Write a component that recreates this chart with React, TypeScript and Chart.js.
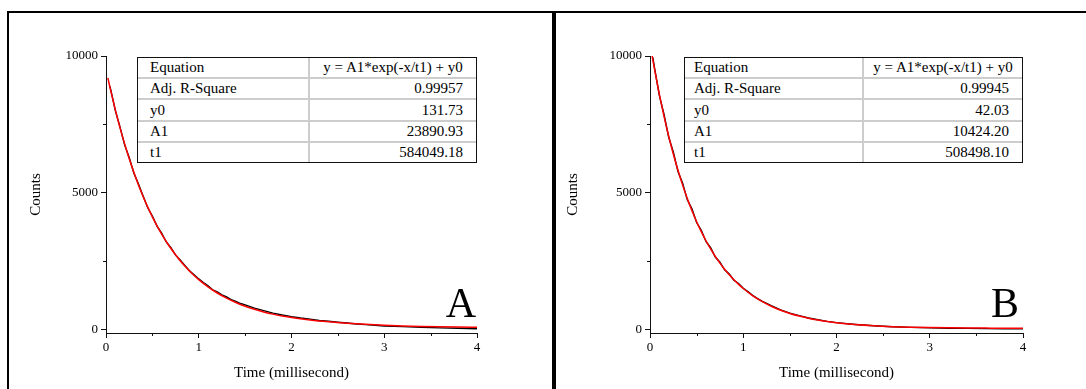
import React, { useEffect, useRef } from "react";
import { Chart, registerables } from "chart.js";
Chart.register(...registerables);

// ---------- data ----------
const xTickValues = [0, 1, 2, 3, 4];
const yTickValues = [0, 5000, 10000];
const xMinorValues = [0.5, 1.5, 2.5, 3.5];
const yMinorValues = [2500, 7500];

const timeDataA = [0.04, 0.05, 0.1, 0.15, 0.2, 0.25, 0.3, 0.35, 0.4, 0.45, 0.5, 0.55, 0.6, 0.65, 0.7, 0.75, 0.8, 0.85, 0.9, 0.95, 1.0, 1.05, 1.1, 1.15, 1.2, 1.25, 1.3, 1.35, 1.4, 1.45, 1.5, 1.6, 1.7, 1.8, 1.9, 2.0, 2.1, 2.2, 2.3, 2.4, 2.5, 2.6, 2.7, 2.8, 2.9, 3.0, 3.2, 3.4, 3.6, 3.8, 4.0];
const countsDataA = [8900, 8790, 8010, 7420, 6760, 6290, 5720, 5320, 4880, 4450, 4150, 3780, 3520, 3200, 2990, 2720, 2540, 2340, 2150, 2000, 1850, 1720, 1600, 1450, 1380, 1270, 1190, 1090, 1030, 950, 900, 780, 690, 600, 530, 470, 420, 380, 330, 300, 265, 235, 200, 180, 155, 130, 105, 80, 60, 45, 30];

const timeFitA = [0.02, 0.05, 0.1, 0.15, 0.2, 0.25, 0.3, 0.35, 0.4, 0.45, 0.5, 0.55, 0.6, 0.65, 0.7, 0.75, 0.8, 0.85, 0.9, 0.95, 1.0, 1.1, 1.2, 1.3, 1.4, 1.5, 1.6, 1.7, 1.8, 1.9, 2.0, 2.2, 2.4, 2.6, 2.8, 3.0, 3.2, 3.4, 3.6, 3.8, 4.0];
const countsFitA = [9201, 8746, 8040, 7391, 6795, 6249, 5747, 5286, 4863, 4475, 4119, 3791, 3491, 3216, 2962, 2731, 2517, 2322, 2141, 1977, 1826, 1559, 1334, 1145, 986, 851, 738, 643, 562, 495, 438, 350, 283, 230, 188, 155, 130, 112, 98, 88, 80];

const timeDataB = [0.03, 0.05, 0.1, 0.15, 0.2, 0.25, 0.3, 0.35, 0.4, 0.45, 0.5, 0.55, 0.6, 0.65, 0.7, 0.75, 0.8, 0.85, 0.9, 0.95, 1.0, 1.05, 1.1, 1.15, 1.2, 1.3, 1.4, 1.5, 1.6, 1.7, 1.8, 1.9, 2.0, 2.2, 2.4, 2.6, 2.8, 3.0, 3.2, 3.4, 3.6, 3.8, 4.0];
const countsDataB = [9950, 9540, 8560, 7870, 7040, 6490, 5780, 5350, 4740, 4410, 3910, 3630, 3220, 2990, 2650, 2460, 2180, 2030, 1800, 1680, 1510, 1390, 1250, 1140, 1040, 870, 720, 600, 505, 420, 355, 295, 250, 185, 135, 100, 78, 62, 48, 40, 32, 28, 24];

const timeFitB = [0.02, 0.05, 0.1, 0.15, 0.2, 0.25, 0.3, 0.35, 0.4, 0.45, 0.5, 0.55, 0.6, 0.65, 0.7, 0.75, 0.8, 0.85, 0.9, 0.95, 1.0, 1.1, 1.2, 1.3, 1.4, 1.5, 1.6, 1.7, 1.8, 1.9, 2.0, 2.2, 2.4, 2.6, 2.8, 3.0, 3.2, 3.4, 3.6, 3.8, 4.0];
const countsFitB = [10064, 9490, 8605, 7803, 7076, 6418, 5820, 5279, 4789, 4344, 3942, 3576, 3245, 2945, 2673, 2427, 2204, 2001, 1818, 1651, 1500, 1241, 1026, 851, 706, 588, 490, 410, 344, 291, 246, 180, 135, 105, 84, 71, 61, 55, 51, 48, 46];

const tableRowsA = [
  ["Equation", "y = A1*exp(-x/t1) + y0"],
  ["Adj. R-Square", "0.99957"],
  ["y0", "131.73"],
  ["A1", "23890.93"],
  ["t1", "584049.18"],
];
const tableRowsB = [
  ["Equation", "y = A1*exp(-x/t1) + y0"],
  ["Adj. R-Square", "0.99945"],
  ["y0", "42.03"],
  ["A1", "10424.20"],
  ["t1", "508498.10"],
];

const xTitle = "Time (millisecond)";
const yTitle = "Counts";

// ---------- style ----------
const FONT = "'Liberation Serif', 'Times New Roman', Times, serif";
const AXIS = "#111111";

const minorTicksPlugin = {
  id: "minorTicks",
  afterDraw(chart: any, _args: any, opts: any) {
    const { ctx } = chart;
    const xs = chart.scales.x;
    const ys = chart.scales.y;
    ctx.save();
    ctx.strokeStyle = AXIS;
    ctx.lineWidth = 1;
    ctx.beginPath();
    for (const v of opts.x || []) {
      const px = Math.round(xs.getPixelForValue(v)) + 0.5;
      ctx.moveTo(px, xs.top);
      ctx.lineTo(px, xs.top + 3);
    }
    for (const v of opts.y || []) {
      const py = Math.round(ys.getPixelForValue(v)) + 0.5;
      ctx.moveTo(ys.right, py);
      ctx.lineTo(ys.right - 3, py);
    }
    ctx.stroke();
    ctx.restore();
  },
};

function toPoints(xs: number[], ys: number[]) {
  return xs.map((x, i) => ({ x, y: ys[i] }));
}

type PanelProps = {
  left: number;
  width: number;
  plotLeft: number;
  plotRight: number;
  titlePad: number;
  timeData: number[];
  countsData: number[];
  timeFit: number[];
  countsFit: number[];
};

const CANVAS_TOP = 13;
const CANVAS_H = 376;

function DecayChart(p: PanelProps) {
  const ref = useRef<HTMLCanvasElement | null>(null);
  useEffect(() => {
    if (!ref.current) return;
    const chart = new Chart(ref.current, {
      type: "line",
      data: {
        datasets: [
          {
            label: "fit",
            data: toPoints(p.timeFit, p.countsFit),
            borderColor: "#ff0000",
            borderWidth: 1.5,
            pointRadius: 0,
            cubicInterpolationMode: "monotone",
            fill: false,
            order: 0,
          },
          {
            label: "data",
            data: toPoints(p.timeData, p.countsData),
            borderColor: "#000000",
            borderWidth: 1.4,
            pointRadius: 0,
            tension: 0,
            fill: false,
            order: 1,
          },
        ],
      },
      options: {
        animation: false,
        responsive: false,
        devicePixelRatio: 1,
        parsing: false as any,
        layout: {
          padding: { left: 0, top: 43, right: p.width - p.plotRight, bottom: 7 },
        },
        plugins: {
          legend: { display: false },
          tooltip: { enabled: false },
          minorTicks: { x: xMinorValues, y: yMinorValues },
        } as any,
        scales: {
          x: {
            type: "linear",
            min: 0,
            max: 4,
            afterBuildTicks: (s: any) => {
              s.ticks = xTickValues.map((v) => ({ value: v }));
            },
            afterFit: (s: any) => {
              s.height = 49;
            },
            grid: {
              drawOnChartArea: false,
              drawTicks: true,
              tickLength: 5,
              color: AXIS,
              tickColor: AXIS,
            },
            border: { display: true, color: AXIS, width: 1 },
            ticks: {
              font: { family: FONT, size: 13 },
              color: "#000",
              padding: 2,
              maxRotation: 0,
              autoSkip: false,
              callback: (v: any) => String(v),
            },
            title: {
              display: true,
              text: xTitle,
              font: { family: FONT, size: 15 },
              color: "#000",
              padding: { top: 0, bottom: 0 },
            },
          },
          y: {
            type: "linear",
            min: -128,
            max: 10000,
            afterBuildTicks: (s: any) => {
              s.ticks = yTickValues.map((v) => ({ value: v }));
            },
            afterFit: (s: any) => {
              s.width = p.plotLeft;
            },
            grid: {
              drawOnChartArea: false,
              drawTicks: true,
              tickLength: 5,
              color: AXIS,
              tickColor: AXIS,
            },
            border: { display: true, color: AXIS, width: 1 },
            ticks: {
              font: { family: FONT, size: 13 },
              color: "#000",
              padding: 3,
              autoSkip: false,
              callback: (v: any) => String(v),
            },
            title: {
              display: true,
              text: yTitle,
              font: { family: FONT, size: 15 },
              color: "#000",
              padding: { top: p.titlePad, bottom: 0 },
            },
          },
        },
      },
      plugins: [minorTicksPlugin],
    } as any);
    return () => chart.destroy();
  }, []);
  return (
    <canvas
      ref={ref}
      width={p.width}
      height={CANVAS_H}
      style={{ position: "absolute", left: p.left, top: CANVAS_TOP, width: p.width, height: CANVAS_H }}
    />
  );
}

function FitTable(props: { left: number; right: number; col: number; padL: number; rows: string[][] }) {
  const { left, right, col, padL, rows } = props;
  return (
    <div
      style={{
        position: "absolute",
        left,
        top: 57,
        width: right - left,
        height: 106,
        boxSizing: "border-box",
        border: "1px solid #111",
        background: "#fff",
        display: "flex",
        flexDirection: "column",
        fontFamily: FONT,
        fontSize: 15,
        color: "#000",
      }}
    >
      {rows.map((r, i) => (
        <div
          key={i}
          style={{
            flex: 1,
            display: "flex",
            borderTop: i === 0 ? "none" : "2px solid #cdcdcd",
          }}
        >
          <div
            style={{
              width: col - left - 1,
              display: "flex",
              alignItems: "center",
              paddingLeft: padL,
              boxSizing: "border-box",
              whiteSpace: "nowrap",
            }}
          >
            {r[0]}
          </div>
          <div
            style={{
              flex: 1,
              display: "flex",
              alignItems: "center",
              justifyContent: i === 0 ? "center" : "flex-end",
              paddingRight: i === 0 ? 0 : 13,
              borderLeft: "2px solid #cdcdcd",
              boxSizing: "border-box",
              whiteSpace: "nowrap",
            }}
          >
            {r[1]}
          </div>
        </div>
      ))}
    </div>
  );
}

function BigLetter(props: { right: number; text: string }) {
  return (
    <div
      style={{
        position: "absolute",
        left: props.right - 60,
        width: 60,
        top: 282,
        textAlign: "right",
        fontFamily: FONT,
        fontSize: 42,
        lineHeight: "42px",
        color: "#000",
      }}
    >
      {props.text}
    </div>
  );
}

export default function App() {
  return (
    <div
      style={{
        position: "fixed",
        left: 0,
        top: 0,
        width: 1086,
        height: 389,
        overflow: "hidden",
        background: "#fff",
      }}
    >
      {/* frame */}
      <div style={{ position: "absolute", left: 7, top: 11, width: 1079, height: 2, background: "#000" }} />
      <div style={{ position: "absolute", left: 7, top: 11, width: 2, height: 378, background: "#000" }} />
      <div style={{ position: "absolute", left: 552, top: 11, width: 4, height: 378, background: "#000" }} />

      <DecayChart
        left={9}
        width={543}
        plotLeft={97}
        plotRight={468}
        titlePad={18}
        timeData={timeDataA}
        countsData={countsDataA}
        timeFit={timeFitA}
        countsFit={countsFitA}
      />
      <DecayChart
        left={556}
        width={530}
        plotLeft={94}
        plotRight={467}
        titlePad={8}
        timeData={timeDataB}
        countsData={countsDataB}
        timeFit={timeFitB}
        countsFit={countsFitB}
      />

      <FitTable left={137} right={477} col={308} padL={12} rows={tableRowsA} />
      <FitTable left={684} right={1023} col={862} padL={9} rows={tableRowsB} />

      <BigLetter right={476} text="A" />
      <BigLetter right={1019} text="B" />
    </div>
  );
}
